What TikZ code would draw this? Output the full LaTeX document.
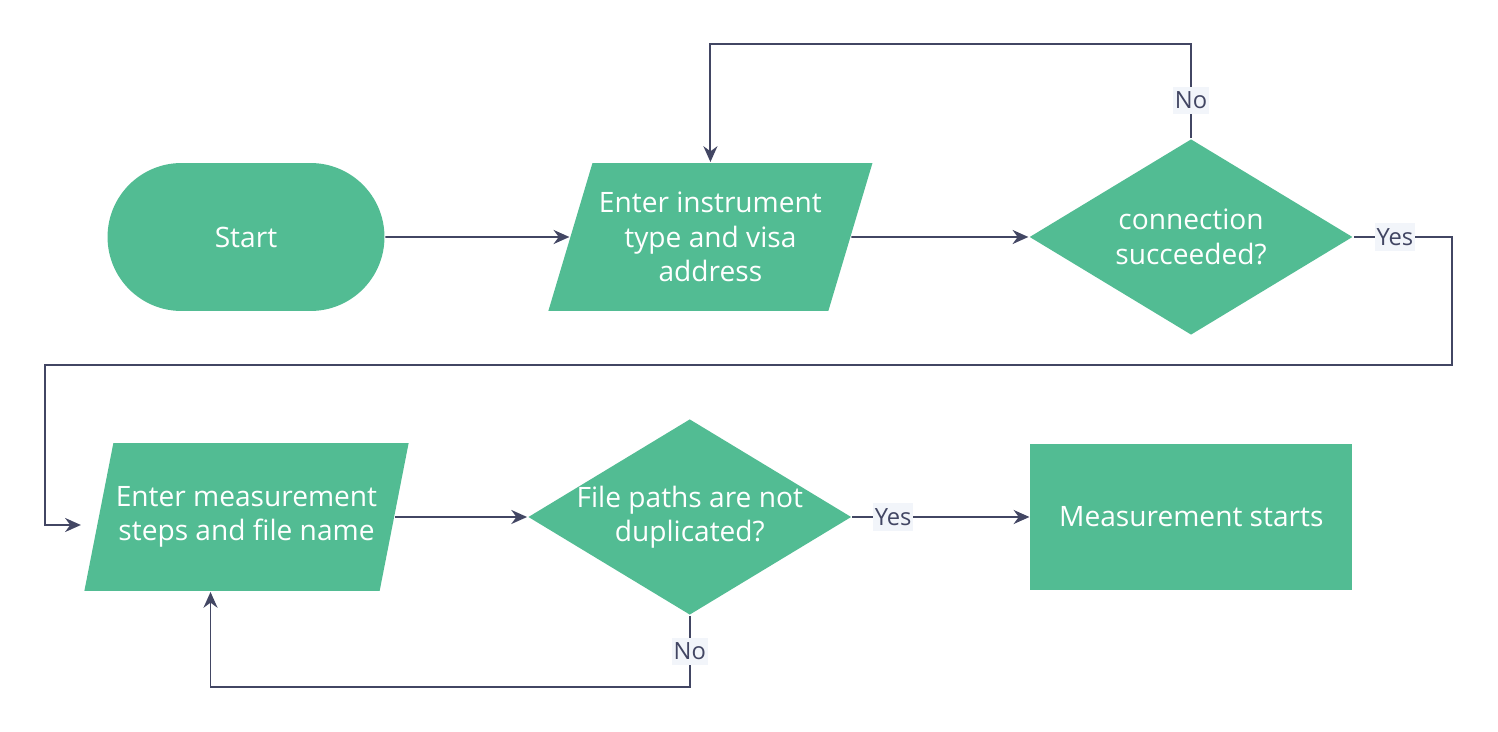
\documentclass[tikz,border=0pt]{standalone}
\usepackage{fontspec}
\setmainfont{Open Sans}
\usetikzlibrary{positioning,arrows.meta,shapes.geometric}
\definecolor{flowgreen}{RGB}{82,188,147}
\definecolor{flowline}{RGB}{66,70,99}
\definecolor{tagbg}{RGB}{242,245,250}

\begin{document}
\begin{tikzpicture}[x=0.02cm, y=-0.02cm, >={Stealth[length=9pt,width=8pt]},
    line width=1.1pt, draw=flowline,
    box/.style={fill=flowgreen, text=white, font=\fontsize{16}{19.5}\selectfont, align=center, inner sep=0pt},
    io/.style={box, trapezium, trapezium left angle=65, trapezium right angle=115,
      trapezium stretches, minimum width=6.5cm, minimum height=2.96cm},
    decide/.style={box, diamond, minimum width=6.47cm, minimum height=3.92cm},
    dtext/.style={text=white, font=\fontsize{16}{19.5}\selectfont, align=center},
    tag/.style={fill=tagbg, text=flowline, font=\fontsize{13.5}{15}\selectfont, inner xsep=1pt, inner ysep=3pt},
    flow/.style={draw=flowline, ->}]
    \useasboundingbox (0,0) rectangle (1498,732);

    \node[box, rounded corners=1.48cm, minimum width=5.54cm, minimum height=2.96cm] (start) at (246,237) {Start};
    \node[io, right=3.68cm of start] (visa) {Enter instrument\\type and visa\\address};
    \node[decide, right=3.54cm of visa, label={[dtext]center:connection\\succeeded?}] (conn) {};

    \node[io] (steps) at (246.5,517) {Enter measurement\\steps and file name};
    \node[decide, right=2.64cm of steps, label={[dtext]center:File paths are not\\duplicated?}] (dup) {};
    \node[box, minimum width=6.44cm, minimum height=2.94cm, right=3.54cm of dup] (go) {Measurement starts};

    \coordinate (back) at (45,365);

    \draw[flow] (start) -- (visa);
    \draw[flow] (visa) -- (conn);
    \draw[flow] (conn.north) -- node[tag, pos=.4]{No} ++(0,-94) -| (visa.north);
    \draw[flow] (conn.east) -- node[tag, pos=.42]{Yes} ++(98,0) |- (back) |- ([shift={(-17,8)}]steps.west);
    \draw[flow] (steps) -- (dup);
    \draw[flow] (dup) -- node[tag, pos=.23]{Yes} (go);
    \draw[flow] (dup.south) -- node[tag]{No} ++(0,71) -| ([shift={(-36,0)}]steps.south);
  \end{tikzpicture}
\end{document}
